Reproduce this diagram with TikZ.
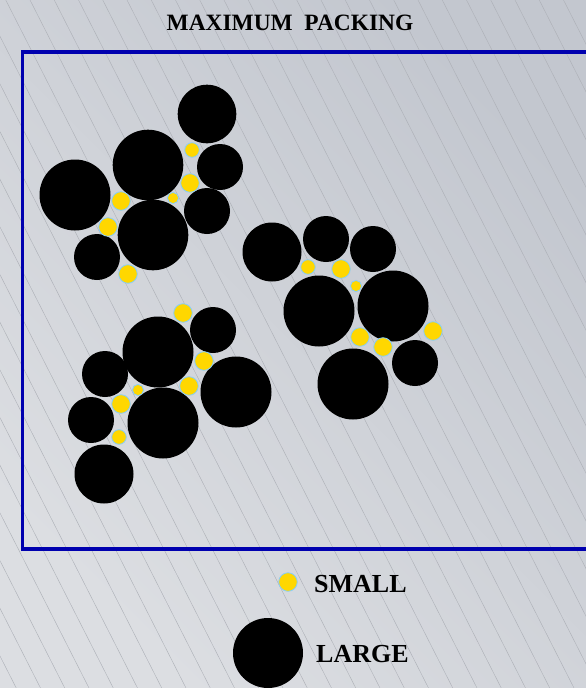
\documentclass[tikz,border=0pt]{standalone}
\usepackage{fontspec}
\setmainfont{Liberation Serif}
\usepackage{tikz}

\definecolor{bglight}{RGB}{220,222,226}
\definecolor{bgdark}{RGB}{195,199,207}
\definecolor{hatch}{RGB}{172,175,182}
\definecolor{frameblue}{RGB}{0,0,175}
\definecolor{discyellow}{RGB}{255,215,0}
\definecolor{discrim}{RGB}{135,206,250}

\begin{document}
\begin{tikzpicture}[x=1pt,y=-1pt,
    bigdisc/.style={fill=black},
    smalldisc/.style={fill=discyellow,draw=discrim,line width=0.8pt},
    label/.style={anchor=base west,inner sep=0pt,font=\bfseries\fontsize{26}{30}\selectfont}]
			\useasboundingbox (0,0) rectangle (586,688);
			\clip (0,0) rectangle (586,688);
			\shade[top color=bgdark,bottom color=bglight,shading angle=-45] (0,0) rectangle (586,688);
			\foreach \k in {-16,...,24}{ \draw[hatch,line width=0.4pt] ({30+24.25*\k},0) -- ({380+24.25*\k},688); }
			\draw[frameblue,line width=3.5pt] (600,52) -- (22.5,52) -- (22.5,549) -- (600,549);
			\node[anchor=base,inner sep=0pt,font=\bfseries\fontsize{23.4}{28}\selectfont] (title) at (290,30) {MAXIMUM\ \ PACKING};
			% large discs
			\foreach \x/\y/\r in {207/114/29.3,148/165/35.3,75/195/35.5,220/167/23,207/211/23,153/235/35.3,97/257/23,
				272/252/29.5,326/239/23,373/249/23,319/311/35.5,393/306/35.5,353/384/35.5,415/363/23,
				213/330/23,158/352/35.5,236/392/35.5,105/374/23,163/423/35.5,91/420/23,104/474/29.5}{
				\fill[bigdisc] (\x,\y) circle (\r);
			}
			% small discs
			\foreach \x/\y/\r in {192/150/7.3,190/183/9.3,173/198/5.6,121/201/9.3,108/227/9.3,128/274/9.3,
				308/267/7.3,341/269/9.3,356/286/5.6,360/337/9.3,383/347/9.3,433/331/9.3,
				183/313/9.3,204/361/9.3,189/386/9.3,138/390/5.6,121/404/9.3,119/437/7.3}{
				\draw[smalldisc] (\x,\y) circle (\r);
			}
			% legend
			\draw[smalldisc] (288,582) circle (9.3);
			\fill[bigdisc] (268,653) circle (35);
			\node[label] (small) at (314,592) {SMALL};
			\node[label] (large) at (316,662) {LARGE};
		\end{tikzpicture}
\end{document}
